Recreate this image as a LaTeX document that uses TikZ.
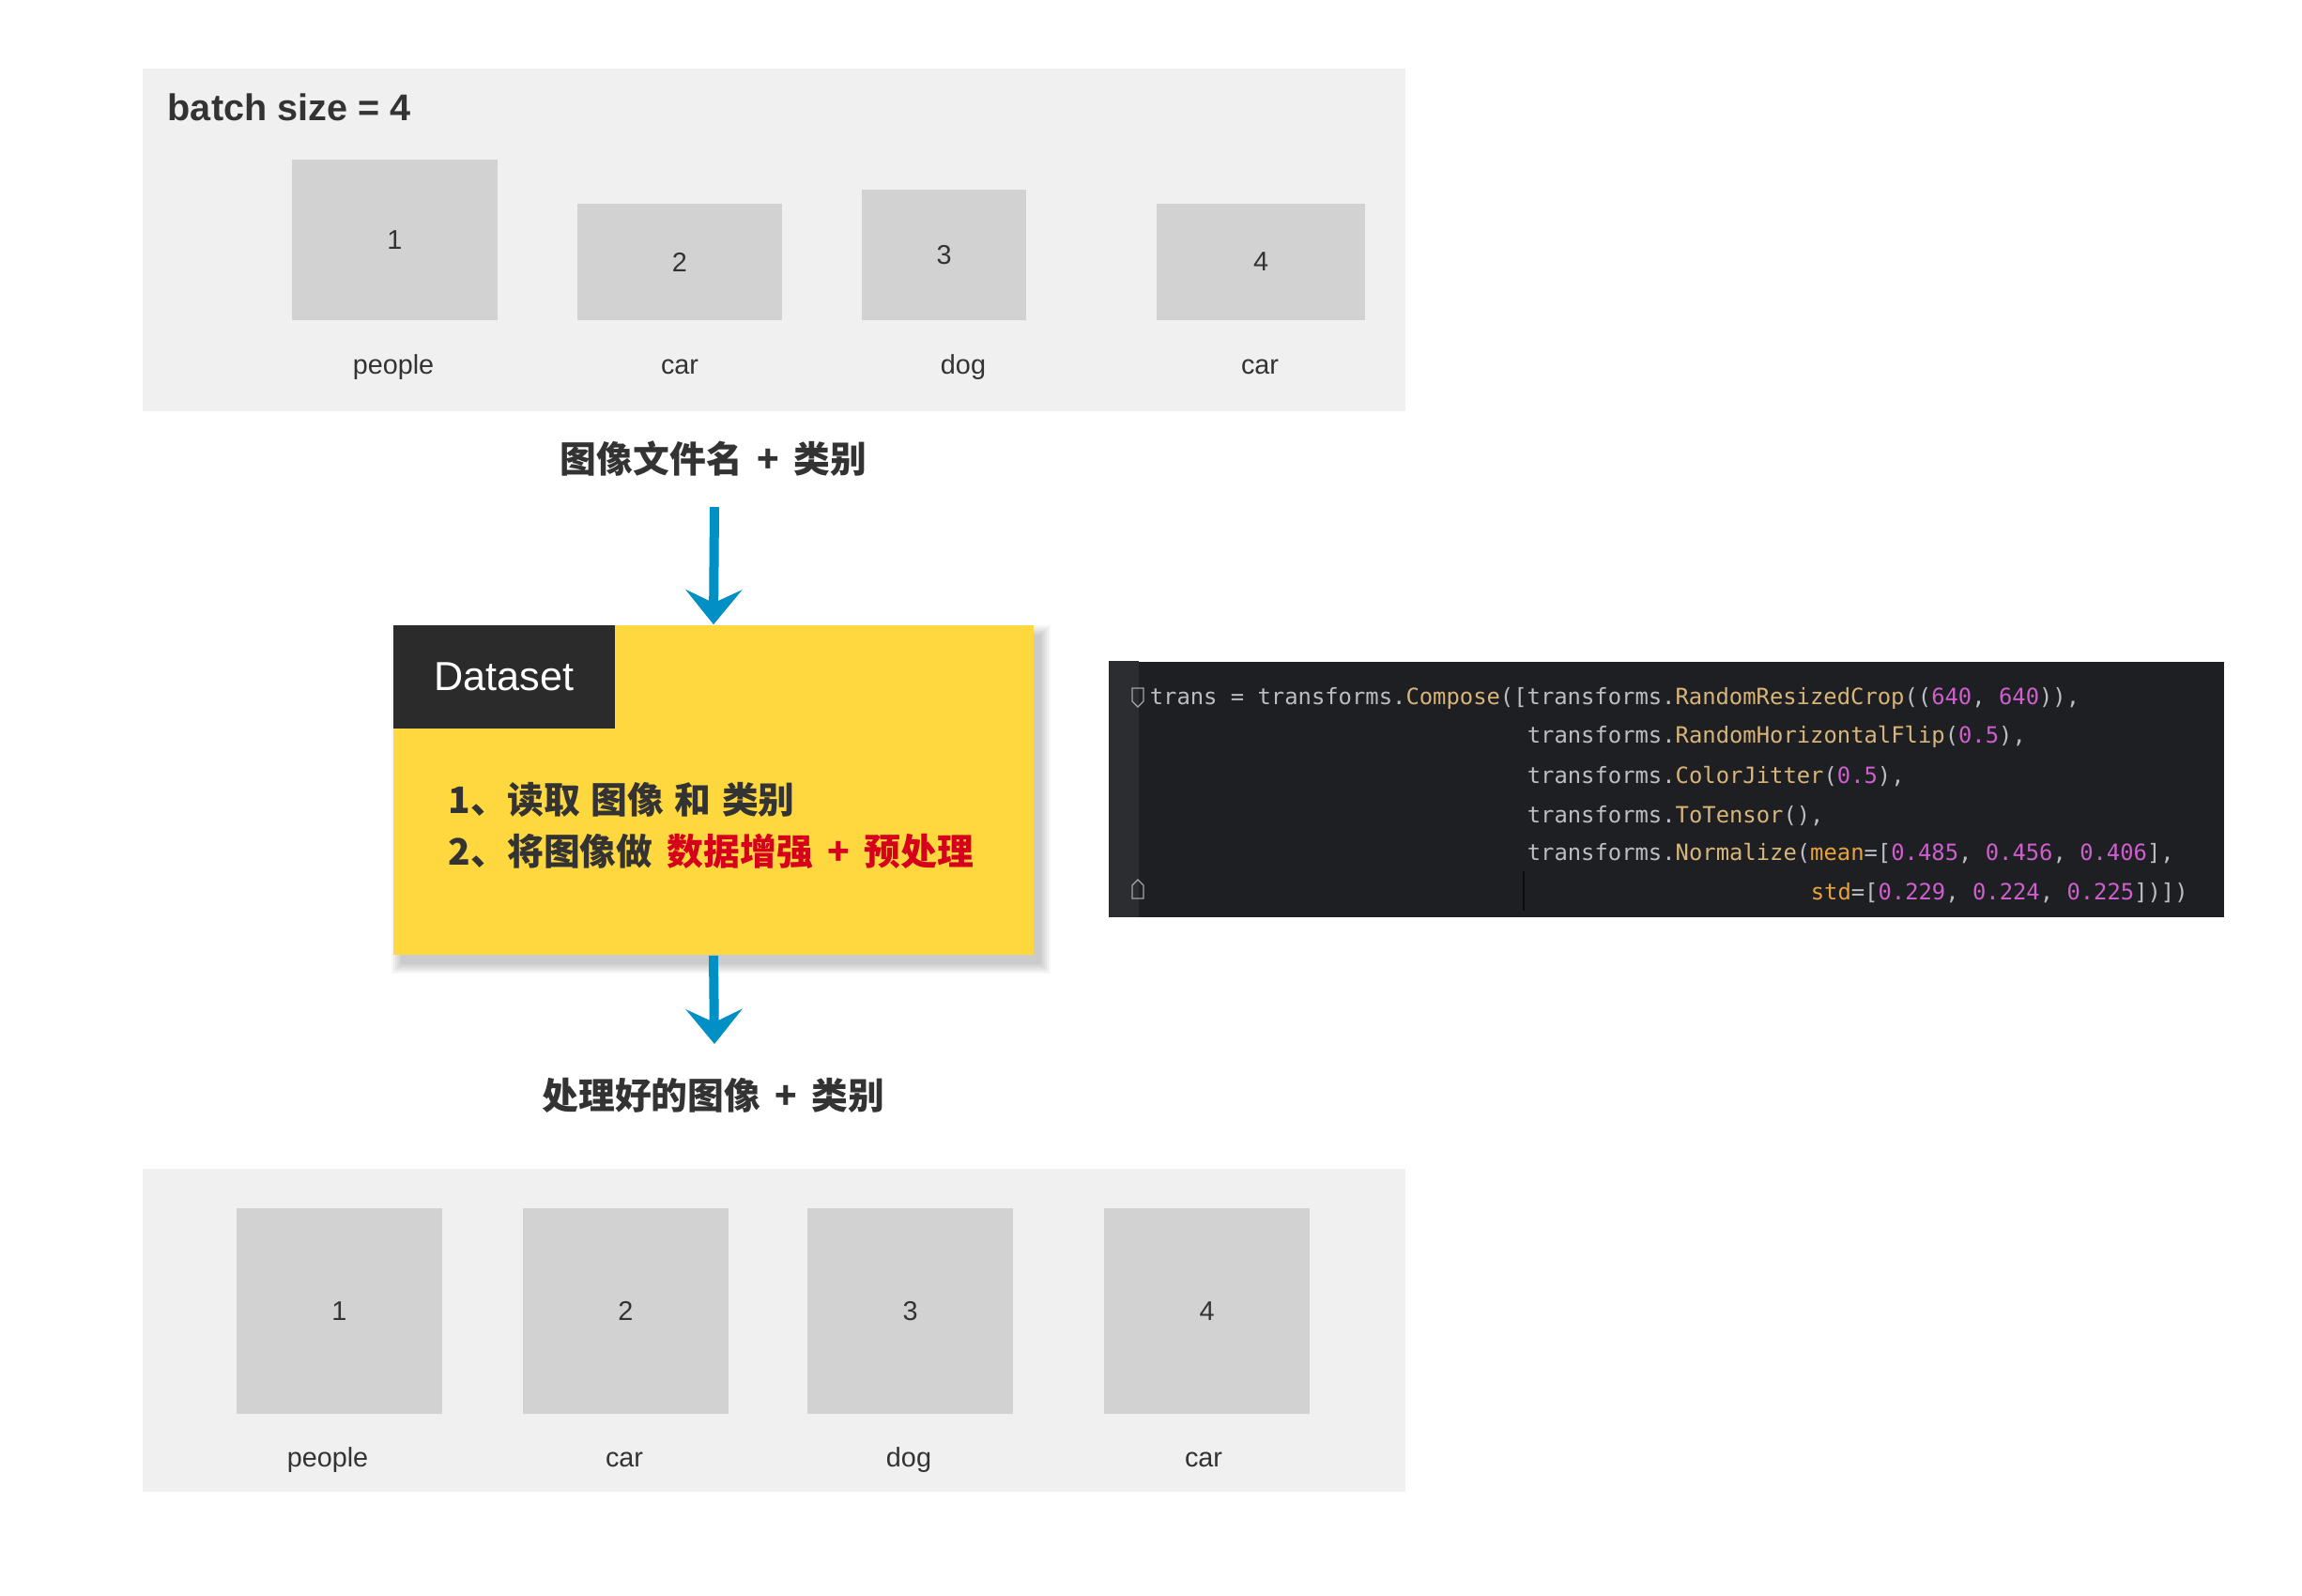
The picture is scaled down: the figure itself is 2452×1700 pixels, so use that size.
\documentclass[tikz,border=0pt]{standalone}
\usepackage{fontspec}
\setmainfont{Liberation Sans}
\newfontfamily\cjk{Noto Sans CJK SC}
\newfontfamily\codefont{DejaVu Sans Mono}
\usetikzlibrary{arrows.meta}
\definecolor{panelgray}{HTML}{F0F0F0}
\definecolor{boxgray}{HTML}{D2D2D2}
\definecolor{txt}{HTML}{333333}
\definecolor{dsyellow}{HTML}{FFD83F}
\definecolor{dsdark}{HTML}{2B2B2B}
\definecolor{redtxt}{HTML}{D6001C}
\definecolor{arrowblue}{HTML}{0090C6}
\definecolor{codebg}{HTML}{1E1F22}
\definecolor{gutter}{HTML}{2B2D30}
\definecolor{ctext}{HTML}{BCBEC4}
\definecolor{cfun}{HTML}{D9B57A}
\definecolor{cnum}{HTML}{CF5FCF}
\definecolor{ckwc}{HTML}{E8A33D}
\newcommand\cfn[1]{\textcolor{cfun}{#1}}
\newcommand\cnm[1]{\textcolor{cnum}{#1}}
\newcommand\ckw[1]{\textcolor{ckwc}{#1}}
\newcommand\gp{\hspace{0.4em}}
\newcommand\gq{\hspace{0.3em}}
\tikzset{
  panel/.style={fill=panelgray, draw=none, inner sep=0pt, minimum width=336.25pt},
  imgbox/.style={fill=boxgray, draw=none, inner sep=0pt, text=txt, font=\fontsize{7.2}{8}\selectfont},
  lbl/.style={text=txt, inner sep=0pt, anchor=base, font=\fontsize{7.2}{8}\selectfont},
  cnlabel/.style={text=txt, inner sep=0pt, anchor=base, font=\cjk\bfseries\fontsize{9.7}{12}\selectfont},
  dsline/.style={anchor=base west, inner sep=0pt, text=txt, font=\cjk\bfseries\fontsize{9.7}{12}\selectfont},
  flowarrow/.style={draw=arrowblue, line width=2.5pt, -{Stealth[length=9.25pt, width=15pt, inset=3.5pt]}},
  codeline/.style={anchor=base west, inner sep=0pt, text=ctext, font=\codefont\fontsize{5.96}{7}\selectfont},
}
\begin{document}
\begin{tikzpicture}[x=0.25pt, y=-0.25pt]
\useasboundingbox (0,0) rectangle (2452,1700);
\fill[white] (0,0) rectangle (2452,1700);

% top panel
\node[panel, minimum height=91.25pt] (ptop) at (824.5,255.5) {};
\node[anchor=base west, inner sep=0pt, text=txt, font=\bfseries\fontsize{9.9}{12}\selectfont] (title) at (178,129) {batch size = 4};
\node[imgbox, minimum width=54.75pt, minimum height=42.75pt] (t1) at (420.5,256) {\raisebox{-1pt}{1}};
\node[imgbox, minimum width=54.5pt, minimum height=31pt] (t2) at (724,279) {2};
\node[imgbox, minimum width=43.75pt, minimum height=34.75pt] (t3) at (1005.5,271.5) {3};
\node[imgbox, minimum width=55.5pt, minimum height=31pt] (t4) at (1343,279) {4};
\node[lbl] (tl1) at (419,399) {people};
\node[lbl] (tl2) at (724,399) {car};
\node[lbl] (tl3) at (1026,399) {dog};
\node[lbl] (tl4) at (1342,399) {car};

\node[cnlabel] (lab1) at (760,504) {图像文件名{\gp}+{\gp}类别};

% dataset box with soft shadow
\foreach \s in {0,2,4,6,8,10} {
  \fill[black, opacity=0.035] (419+8-\s,666+10-\s) rectangle (1101+8+\s,1017+10+\s);
}
\node[fill=dsyellow, draw=none, inner sep=0pt, minimum width=170.5pt, minimum height=87.75pt] (ds) at (760,841.5) {};
\node[fill=dsdark, draw=none, inner sep=0pt, minimum width=59pt, minimum height=27.5pt, anchor=north west] (dshead) at (ds.north west) {};
\node[text=white, inner sep=0pt, font=\fontsize{10.8}{12}\selectfont] (dstitle) at (dshead.center) {Dataset};
\node[dsline] (ds1) at (477,866) {1、读取{\gq}图像{\gq}和{\gq}类别};
\node[dsline] (ds2) at (477,921) {2、将图像做{\gp}\textcolor{redtxt}{数据增强{\gp}+{\gp}预处理}};

% arrows
\coordinate (a1start) at (761,540);
\coordinate (a2end) at (761,1112);
\draw[flowarrow] (a1start) -- (ds.north);
\draw[flowarrow] (ds.south) -- (a2end);

\node[cnlabel] (lab2) at (760,1181) {处理好的图像{\gp}+{\gp}类别};

% bottom panel
\node[panel, minimum height=86pt] (pbot) at (824.5,1417) {};
\node[imgbox, minimum width=54.75pt, minimum height=54.75pt] (b1) at (361.5,1396.5) {1};
\node[imgbox, minimum width=54.75pt, minimum height=54.75pt] (b2) at (666.5,1396.5) {2};
\node[imgbox, minimum width=54.75pt, minimum height=54.75pt] (b3) at (969.5,1396.5) {3};
\node[imgbox, minimum width=54.75pt, minimum height=54.75pt] (b4) at (1285.5,1396.5) {4};
\node[lbl] (bl1) at (349,1562) {people};
\node[lbl] (bl2) at (665,1562) {car};
\node[lbl] (bl3) at (968,1562) {dog};
\node[lbl] (bl4) at (1282,1562) {car};

% code block
\node[fill=codebg, draw=none, inner sep=0pt, minimum width=296.75pt, minimum height=68pt] (code) at (1775.5,841) {};
\fill[gutter] (code.north west) rectangle (1213,977);
\draw[black!60!codebg, line width=0.3pt] (1623,928) -- (1623,970);
\draw[gray!70, line width=0.3pt] (1206,733) -- (1218,733) -- (1218,747) -- (1212,753) -- (1206,747) -- cycle;
\draw[gray!70, line width=0.3pt] (1206,957) -- (1218,957) -- (1218,943) -- (1212,937) -- (1206,943) -- cycle;
\node[codeline] (c1) at (1224,750) {trans = transforms.\cfn{Compose}([transforms.\cfn{RandomResizedCrop}((\cnm{640}, \cnm{640})),};
\node[codeline] (c2) at (1626,791) {transforms.\cfn{RandomHorizontalFlip}(\cnm{0.5}),};
\node[codeline] (c3) at (1626,834) {transforms.\cfn{ColorJitter}(\cnm{0.5}),};
\node[codeline] (c4) at (1626,876) {transforms.\cfn{ToTensor}(),};
\node[codeline] (c5) at (1626,916) {transforms.\cfn{Normalize}(\ckw{mean}=[\cnm{0.485}, \cnm{0.456}, \cnm{0.406}],};
\node[codeline] (c6) at (1928,958) {\ckw{std}=[\cnm{0.229}, \cnm{0.224}, \cnm{0.225}])])};
\end{tikzpicture}
\end{document}
